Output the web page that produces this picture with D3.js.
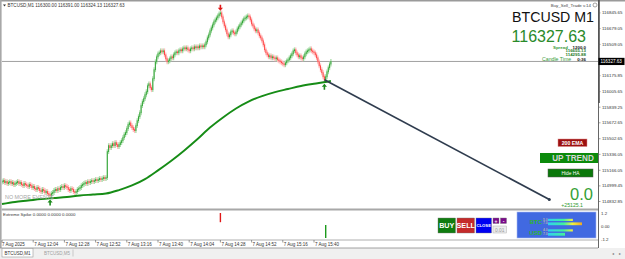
<!DOCTYPE html>
<html><head><meta charset="utf-8">
<script src="https://cdn.jsdelivr.net/npm/d3@7"></script>
<style>
html,body{margin:0;padding:0;background:#fff;overflow:hidden;}
svg{display:block;font-family:"Liberation Sans",Arial,sans-serif;}
</style></head><body>
<svg id="c" width="625" height="259"></svg>
<script>
// ---------------- DATA ----------------
const symbolName = "BTCUSD M1";
const headerText = "BTCUSD,M1  116300.00 116391.00 116324.13 116327.63";
const firstOpen = 115040;
const closes = [
115046,115056,115035,115046,115025,115035,115046,115025,115035,115014,
115025,115035,115046,115025,115035,115014,115003,115025,115014,115003,
114993,115014,115003,114982,114993,114971,114961,114982,114971,114950,
114939,114961,114950,114929,114939,114918,114907,114897,114918,114929,
114950,114961,114950,114971,114961,114982,114993,114982,115003,114993,
114982,114961,114950,114971,114961,114939,114929,114939,114961,114971,
114982,115003,115014,115025,115035,115025,115046,115035,115046,115056,
115046,115056,115067,115056,115067,115078,115067,115078,115088,115078,115088,
115365,115429,115408,115429,115450,115429,115461,115440,115419,
115440,115461,115482,115514,115546,115568,115610,115653,115672,115642,
115621,115600,115589,115642,115695,115738,115780,115856,115898,115930,
115972,116004,116068,116089,116047,116026,116143,116239,116324,116377,
116409,116420,116441,116430,116441,116398,116356,116324,116334,116356,
116377,116366,116398,116420,116430,116420,116441,116452,116441,116462,
116473,116462,116473,116452,116441,116462,116473,116462,116484,116473,
116484,116473,116494,116484,116494,116484,116505,116537,116579,116611,
116654,116686,116718,116750,116771,116792,116814,116835,116846,116803,
116750,116707,116665,116622,116590,116611,116643,116654,116633,116622,
116643,116675,116697,116718,116739,116760,116782,116792,116803,116814,
116803,116771,116728,116707,116675,116654,116665,116633,116601,116579,
116547,116505,116452,116420,116398,116377,116388,116366,116377,116366,
116356,116366,116345,116334,116324,116313,116302,116292,116313,116334,
116345,116366,116388,116409,116441,116452,116420,116398,116377,116388,
116366,116356,116377,116409,116430,116441,116452,116462,116441,116430,
116420,116398,116366,116324,116281,116239,116207,116164,116132,116164,
116217,116260,116300,116327.63
];
const emaIdx  = [0,10,20,30,40,50,60,70,80,90,100,110,120,130,140,150,160,170,180,190,200,210,220,230,240,250,253];
const emaVals = [114806,114828,114843,114859,114870,114881,114897,114907,114918,114955,115004,115072,115165,115265,115375,115494,115622,115730,115826,115902,115958,116001,116034,116066,116090,116111,116121];
const priceTicks = [116845.65,116679.05,116509.05,116175.85,116005.65,115839.25,115672.65,115502.65,115336.05,115166.05,114999.45,114832.85];
const currentPrice = 116327.63;
const timeIdx    = [0,24,48,72,96,120,144,168,192,216,240];
const timeLabels = ["7 Aug 2025","7 Aug 12:04","7 Aug 12:28","7 Aug 12:52","7 Aug 13:16","7 Aug 13:40","7 Aug 14:04","7 Aug 14:28","7 Aug 14:52","7 Aug 15:16","7 Aug 15:40"];
const trendIdx  = [248, 421];
const trendVals = [116132, 114854];
const upArrowIdx = [37, 248];
const downArrowIdx = [168];
const spikeIdx = [168, 249];
const spikeTop = [1.2, 0.1];
const spikeBot = [0.35, -1.1];
const spikeDir = ["down","up"];
const subTicks = [1.2, 0, -1.2];
const subTickLabels = ["1.2","0.00","-1.2"];
const strengthNames = ["BTC","USD"];
const strengthLabels = [["5.0","7.0"],["4.0","7.0"]];
const strengthBars = [[7.3,10],[7.3,5]];

// ---------------- SCALES ----------------
const svg = d3.select("#c");
const x = d3.scaleLinear().domain([0,240]).range([2,314]);
const y = d3.scaleLinear().domain([114832.85,116845.65]).range([201.5,12.9]);
const ys = d3.scaleLinear().domain([-1.2,1.2]).range([239,213]);

// window frame
svg.append("rect").attr("x",0).attr("y",0).attr("width",625).attr("height",259).attr("fill","#fff");
svg.append("rect").attr("x",0).attr("y",248).attr("width",625).attr("height",11).attr("fill","#f0f0f0");
svg.append("rect").attr("x",0).attr("y",0).attr("width",625).attr("height",1.5).attr("fill","#9a9a9a");
svg.append("rect").attr("x",0).attr("y",0).attr("width",1.6).attr("height",248).attr("fill","#a8a8a8");

const main = svg.append("g");
main.append("defs").append("clipPath").attr("id","clipMain")
  .append("rect").attr("x",2).attr("y",2).attr("width",596).attr("height",207);

// current price line
main.append("line").attr("x1",2).attr("x2",598).attr("y1",y(currentPrice)).attr("y2",y(currentPrice))
  .attr("stroke","#a0a0a0").attr("stroke-width",1);

// candles
const candles = closes.map((c,i)=>({i, o: i===0?firstOpen:closes[i-1], c}));
const cg = main.append("g").attr("clip-path","url(#clipMain)");
cg.selectAll("line.wick").data(candles).join("line")
  .attr("x1",d=>x(d.i)).attr("x2",d=>x(d.i))
  .attr("y1",d=>Math.min(y(d.o),y(d.c))-2.4)
  .attr("y2",d=>Math.max(y(d.o),y(d.c))+2.4)
  .attr("stroke",d=>d.c>=d.o?"#a8dca8":"#ffbcbc").attr("stroke-width",1.3);
cg.selectAll("line.body").data(candles).join("line")
  .attr("x1",d=>x(d.i)).attr("x2",d=>x(d.i))
  .attr("y1",d=>Math.min(y(d.o),y(d.c))-0.4)
  .attr("y2",d=>Math.max(y(d.o),y(d.c))+0.4)
  .attr("stroke",d=>d.c>=d.o?"#1f9a24":"#ff3030").attr("stroke-width",0.85);

// EMA 200
const emaData = emaIdx.map((k,j)=>[k,emaVals[j]]);
main.append("path").datum(emaData)
  .attr("d",d3.line().x(d=>x(d[0])).y(d=>y(d[1])).curve(d3.curveMonotoneX))
  .attr("fill","none").attr("stroke","#168c16").attr("stroke-width",1.9);

// trend line
main.append("line")
  .attr("x1",x(trendIdx[0])).attr("y1",y(trendVals[0]))
  .attr("x2",x(trendIdx[1])).attr("y2",y(trendVals[1]))
  .attr("stroke","#2f3c4e").attr("stroke-width",1.7);
main.append("circle").attr("cx",x(trendIdx[1])).attr("cy",y(trendVals[1])).attr("r",1.5).attr("fill","#2f3c4e");

// arrows
function upArrow(cx, top, col){
  return main.append("path").attr("d",`M${cx},${top} L${cx-2.6},${top+3} L${cx-0.8},${top+3} L${cx-0.8},${top+6} L${cx+0.8},${top+6} L${cx+0.8},${top+3} L${cx+2.6},${top+3} Z`).attr("fill",col);
}
function downArrow(cx, bot, col){
  return main.append("path").attr("d",`M${cx},${bot} L${cx-2.6},${bot-3} L${cx-0.8},${bot-3} L${cx-0.8},${bot-6} L${cx+0.8},${bot-6} L${cx+0.8},${bot-3} L${cx+2.6},${bot-3} Z`).attr("fill",col);
}
upArrowIdx.forEach(k=>upArrow(x(k), y(closes[k])+4, "#1c8a1c"));
downArrowIdx.forEach(k=>downArrow(x(k), y(closes[k])-2, "#e01818"));

// NO MORE EVENTS
main.append("text").attr("x",5).attr("y",198.8).attr("font-size",5.4).attr("fill","#a6a6a6").text("NO MORE EVENTS");

// header
svg.append("path").attr("d","M3,4.5 L6,4.5 L4.5,6.5 Z").attr("fill","#333");
svg.append("text").attr("x",7.5).attr("y",6.6).attr("font-size",4.6).attr("fill","#333").text(headerText);

// right info texts
svg.append("text").attr("x",591).attr("y",6.5).attr("text-anchor","end").attr("font-size",4.4).attr("fill","#444").text("Buy_Sell_Trade v.14");
svg.append("circle").attr("cx",595).attr("cy",5).attr("r",2).attr("fill","none").attr("stroke","#666").attr("stroke-width",0.6);
svg.append("text").attr("x",594).attr("y",22).attr("text-anchor","end").attr("font-size",14.2).attr("fill","#111").text(symbolName);
svg.append("text").attr("x",586).attr("y",42).attr("text-anchor","end").attr("font-size",16).attr("fill","#2a8a2a").text(d3.format(".2f")(currentPrice));
const small = svg.append("g").attr("font-size",4.4).attr("font-weight","bold");
small.append("text").attr("x",553).attr("y",48.8).attr("fill","#3a9a3a").text("Spread");
small.append("text").attr("x",586).attr("y",48.8).attr("text-anchor","end").attr("fill","#111").text("1200.0");
small.append("text").attr("x",586).attr("y",52.3).attr("text-anchor","end").attr("fill","#2a7a2a").text("116655.13");
small.append("text").attr("x",586).attr("y",55.8).attr("text-anchor","end").attr("fill","#2a7a2a").text("114295.88");
small.append("text").attr("x",542).attr("y",60.8).attr("fill","#3a9a3a").attr("font-weight","normal").attr("font-size",5.2).text("Candle Time");
small.append("text").attr("x",586).attr("y",60.8).attr("text-anchor","end").attr("fill","#111").text("0:36");

// 200 EMA / UP TREND / Hide HA
svg.append("rect").attr("x",558).attr("y",139).attr("width",29).attr("height",7.5).attr("fill","#9c1010").attr("stroke","#d88").attr("stroke-width",0.5);
svg.append("text").attr("x",572.5).attr("y",144.8).attr("text-anchor","middle").attr("font-size",5.2).attr("font-weight","bold").attr("fill","#fff").text("200 EMA");
svg.append("rect").attr("x",540).attr("y",153).attr("width",59).attr("height",10).attr("fill","#0b8a0b");
svg.append("text").attr("x",573).attr("y",161.2).attr("text-anchor","middle").attr("font-size",8.2).attr("font-weight","bold").attr("fill","#d6d6d6").text("UP TREND");
svg.append("rect").attr("x",548).attr("y",169).attr("width",45).attr("height",8).attr("fill","#0a780a").attr("stroke","#555").attr("stroke-width",0.5);
svg.append("text").attr("x",570.5).attr("y",174.8).attr("text-anchor","middle").attr("font-size",4.8).attr("fill","#fff").text("Hide HA");
svg.append("text").attr("x",593).attr("y",199.5).attr("text-anchor","end").attr("font-size",16.5).attr("fill","#35a035").text("0.0");
svg.append("text").attr("x",583).attr("y",207.3).attr("text-anchor","end").attr("font-size",5.2).attr("fill","#2e9a2e").text("+25125.1");

// separators main / sub
svg.append("rect").attr("x",1.6).attr("y",208.5).attr("width",596.4).attr("height",2).attr("fill","#a8a8a8");
svg.append("line").attr("x1",2).attr("x2",598).attr("y1",240).attr("y2",240).attr("stroke","#9a9a9a").attr("stroke-width",0.8);
svg.append("line").attr("x1",0).attr("x2",598).attr("y1",248).attr("y2",248).attr("stroke","#8a8a8a").attr("stroke-width",0.8);

// price axis
svg.append("line").attr("x1",598.5).attr("x2",598.5).attr("y1",0).attr("y2",248).attr("stroke","#666").attr("stroke-width",1);
svg.append("rect").attr("x",598).attr("y",0).attr("width",1.8).attr("height",103).attr("fill","#555");
const pa = svg.append("g").attr("font-size",4.4).attr("fill","#333");
priceTicks.forEach(v=>{
  pa.append("line").attr("x1",598.5).attr("x2",600.5).attr("y1",y(v)).attr("y2",y(v)).attr("stroke","#666").attr("stroke-width",0.6);
  pa.append("text").attr("x",602).attr("y",y(v)+1.5).text(d3.format(".2f")(v));
});
svg.append("rect").attr("x",598.5).attr("y",y(currentPrice)-3.6).attr("width",26).attr("height",7.2).attr("fill","#000");
svg.append("text").attr("x",600.5).attr("y",y(currentPrice)+1.6).attr("font-size",4.6).attr("fill","#fff").text(d3.format(".2f")(currentPrice));

// sub window
svg.append("text").attr("x",3).attr("y",215.5).attr("font-size",4.4).attr("fill","#333").text("Extreme Spike 0.0000 0.0000 0.0000");
spikeIdx.forEach((k,j)=>{
  svg.append("line").attr("x1",x(k)).attr("x2",x(k)).attr("y1",ys(spikeTop[j])).attr("y2",ys(spikeBot[j]))
    .attr("stroke",spikeDir[j]==="down"?"#e01818":"#1c9a1c").attr("stroke-width",1.4);
});
subTicks.forEach((v,j)=>{
  svg.append("text").attr("x",601).attr("y",ys(v)+1.5).attr("font-size",4.4).attr("fill","#333").text(subTickLabels[j]);
});

// buttons
function btn(x0,y0,w,h,fill,label,fs,col){
  svg.append("rect").attr("x",x0).attr("y",y0).attr("width",w).attr("height",h).attr("fill",fill).attr("stroke","#777").attr("stroke-width",0.4);
  svg.append("text").attr("x",x0+w/2).attr("y",y0+h/2+fs*0.36).attr("text-anchor","middle").attr("font-size",fs).attr("font-weight","bold").attr("fill",col||"#fff").text(label);
}
btn(438,218,17.5,15,"#107c10","BUY",7.2);
btn(457,218,17.5,15,"#c42a2a","SELL",7.2);
btn(476,218,15.5,15,"#0000f2","CLOSE",4.2);
btn(493,218,6,5.5,"#7a0a8a","+",5);
btn(500.5,218,6,5.5,"#7a0a8a","-",5);
svg.append("rect").attr("x",493).attr("y",226).attr("width",13.5).attr("height",7).attr("fill","#ececec").attr("stroke","#b0b0b0").attr("stroke-width",0.5);
svg.append("text").attr("x",499.7).attr("y",231.5).attr("text-anchor","middle").attr("font-size",4.8).attr("fill","#9a9a9a").text("0.01");

// strength panel
svg.append("rect").attr("x",517).attr("y",212).attr("width",79).attr("height",26).attr("fill","#4169e1").attr("stroke","#a8b8f0").attr("stroke-width",0.6);
const grad = svg.append("defs").append("linearGradient").attr("id","sg").attr("gradientUnits","userSpaceOnUse")
  .attr("x1",548).attr("x2",583).attr("y1",0).attr("y2",0);
[["0","#30d0f0"],["0.45","#40f0a0"],["0.7","#f0f040"],["1","#f0a020"]].forEach(s=>grad.append("stop").attr("offset",s[0]).attr("stop-color",s[1]));
const bx = d3.scaleLinear().domain([0,10]).range([548,582]);
strengthNames.forEach((nm,j)=>{
  const y0 = 218 + j*10.5;
  svg.append("text").attr("x",542).attr("y",y0+6).attr("text-anchor","end").attr("font-size",6).attr("font-weight","bold").attr("fill","#2fb52f").text(nm);
  strengthLabels[j].forEach((lb,k)=>{
    svg.append("text").attr("x",543).attr("y",y0+2.8+k*3.6).attr("font-size",3.4).attr("font-weight","bold").attr("fill","#b0b0b0").text(lb);
    svg.append("rect").attr("x",bx(0)).attr("y",y0+0.8+k*3.6).attr("width",bx(strengthBars[j][k])-bx(0)).attr("height",k===0?2.2:2.8).attr("fill","url(#sg)");
  });
});

// time axis
const ta = svg.append("g").attr("font-size",4.5).attr("fill","#333");
timeIdx.forEach((k,j)=>{
  ta.append("line").attr("x1",x(k)).attr("x2",x(k)).attr("y1",240).attr("y2",242.5).attr("stroke","#555").attr("stroke-width",0.6);
  ta.append("text").attr("x",x(k)+ (j===0?0:1)).attr("y",246.3).text(timeLabels[j]);
});

// tabs
svg.append("rect").attr("x",2).attr("y",248.5).attr("width",31).attr("height",8.5).attr("fill","#fff").attr("stroke","#9a9a9a").attr("stroke-width",0.6);
svg.append("text").attr("x",17.5).attr("y",254.7).attr("text-anchor","middle").attr("font-size",4.5).attr("fill","#333").text("BTCUSD,M1");
svg.append("text").attr("x",57).attr("y",254.7).attr("text-anchor","middle").attr("font-size",4.5).attr("fill","#a0a0a0").text("BTCUSD,M5");
svg.append("line").attr("x1",73).attr("x2",73).attr("y1",249.5).attr("y2",256.5).attr("stroke","#b0b0b0").attr("stroke-width",0.6);
svg.append("text").attr("x",612).attr("y",254.5).attr("font-size",4).attr("fill","#777").text("◂");
svg.append("text").attr("x",619).attr("y",254.5).attr("font-size",4).attr("fill","#777").text("▸");
</script>
</body></html>
